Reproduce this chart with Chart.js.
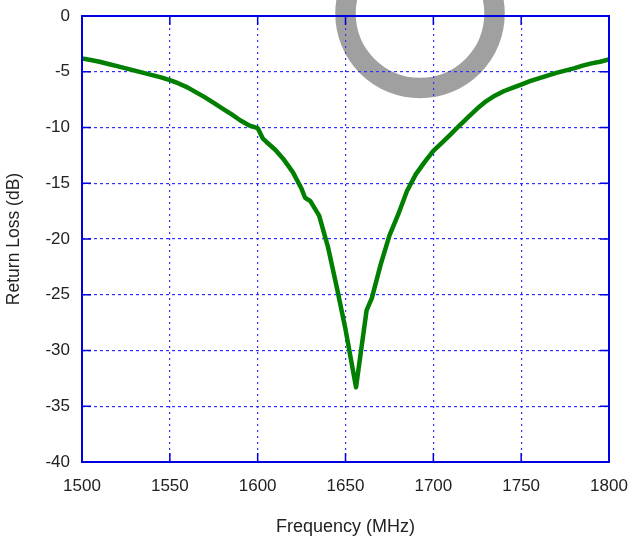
<!DOCTYPE html>
<html>
<head>
<meta charset="utf-8">
<script src="https://cdn.jsdelivr.net/npm/chart.js@4/dist/chart.umd.min.js"></script>
<style>
html,body{margin:0;padding:0;background:#fff;}
#c{display:block;}
</style>
</head>
<body>
<canvas id="c" width="631" height="542"></canvas>
<script>
const freqMHz = [1500,1505,1510,1515,1520,1525,1530,1535,1540,1545,1550,1555,1560,1565,1570,1575,1580,1585,1590,1595,1600,1603,1605,1610,1615,1620,1625,1627,1630,1635,1640,1645,1650,1656,1662,1665,1670,1675,1680,1685,1690,1695,1700,1705,1710,1715,1720,1725,1730,1735,1740,1745,1750,1755,1760,1765,1770,1775,1780,1785,1790,1795,1800];
const returnLossDB = [-3.8,-3.95,-4.1,-4.3,-4.5,-4.7,-4.9,-5.1,-5.3,-5.5,-5.75,-6.05,-6.4,-6.85,-7.3,-7.8,-8.3,-8.8,-9.35,-9.8,-10.05,-11.0,-11.3,-12.0,-12.9,-14.0,-15.5,-16.3,-16.6,-17.9,-20.7,-24.3,-28.1,-33.3,-26.4,-25.3,-22.3,-19.7,-17.8,-15.7,-14.2,-13.1,-12.1,-11.35,-10.6,-9.8,-9.05,-8.3,-7.65,-7.15,-6.75,-6.45,-6.15,-5.85,-5.6,-5.35,-5.1,-4.9,-4.7,-4.45,-4.25,-4.1,-3.9];
const xTicks = [1500,1550,1600,1650,1700,1750,1800];
const yTicks = [-40,-35,-30,-25,-20,-15,-10,-5,0];

const FONT = "'Liberation Sans', Arial, sans-serif";
const BLUE = '#0000e0';

const ringPlugin = {
  id: 'ring',
  beforeDraw(chart) {
    const ctx = chart.ctx;
    ctx.save();
    ctx.strokeStyle = '#a0a0a0';
    ctx.lineWidth = 20.5;
    ctx.beginPath();
    ctx.ellipse(420, 13.5, 74.5, 74.5, 0, 0, Math.PI * 2);
    ctx.stroke();
    ctx.restore();
  }
};

const framePlugin = {
  id: 'frame',
  afterDatasetsDraw(chart) {
    const {ctx, chartArea: a, scales} = chart;
    ctx.save();
    ctx.strokeStyle = BLUE;
    ctx.lineWidth = 1.5;
    const tl = 9;
    ctx.beginPath();
    xTicks.forEach(v => {
      const px = scales.x.getPixelForValue(v);
      ctx.moveTo(px, a.bottom); ctx.lineTo(px, a.bottom - tl);
      ctx.moveTo(px, a.top); ctx.lineTo(px, a.top + tl);
    });
    yTicks.forEach(v => {
      const py = scales.y.getPixelForValue(v);
      ctx.moveTo(a.left, py); ctx.lineTo(a.left + tl, py);
      ctx.moveTo(a.right, py); ctx.lineTo(a.right - tl, py);
    });
    ctx.stroke();
    ctx.lineWidth = 2;
    ctx.strokeRect(a.left, a.top, a.right - a.left, a.bottom - a.top);
    ctx.restore();
  }
};

function noPad(s) {
  s.paddingLeft = 0; s.paddingRight = 0; s.paddingTop = 0; s.paddingBottom = 0;
}

new Chart(document.getElementById('c'), {
  type: 'line',
  data: {
    datasets: [{
      data: freqMHz.map((f, i) => ({x: f, y: returnLossDB[i]})),
      borderColor: '#007f00',
      borderWidth: 4.5,
      pointRadius: 0,
      tension: 0,
      fill: false,
      borderJoinStyle: 'round'
    }]
  },
  options: {
    responsive: false,
    animation: false,
    layout: {padding: {top: 16, right: 22, left: 0, bottom: 0}},
    plugins: {legend: {display: false}, tooltip: {enabled: false}},
    scales: {
      x: {
        type: 'linear',
        min: 1500, max: 1800,
        afterFit: s => { s.height = 80; noPad(s); },
        afterBuildTicks: s => { s.ticks = xTicks.map(v => ({value: v})); },
        grid: {color: '#3030ff', lineWidth: 1.2, drawTicks: false},
        border: {display: false, dash: [2,4]},
        ticks: {padding: 14, color: '#222', font: {family: FONT, size: 17}, maxRotation: 0, callback: v => String(v)},
        title: {display: true, text: 'Frequency (MHz)', color: '#222', font: {family: FONT, size: 18}, padding: {top: 0, bottom: 4}}
      },
      y: {
        type: 'linear',
        min: -40, max: 0,
        afterFit: s => { s.width = 82; noPad(s); },
        afterBuildTicks: s => { s.ticks = yTicks.map(v => ({value: v})); },
        grid: {color: '#3030ff', lineWidth: 1.2, drawTicks: false},
        border: {display: false, dash: [3,3]},
        ticks: {padding: 12, color: '#222', font: {family: FONT, size: 17}, callback: v => String(v)},
        title: {display: true, text: 'Return Loss (dB)', color: '#222', font: {family: FONT, size: 17.5}, padding: {top: 4, bottom: 0}}
      }
    }
  },
  plugins: [ringPlugin, framePlugin]
});
</script>
</body>
</html>
